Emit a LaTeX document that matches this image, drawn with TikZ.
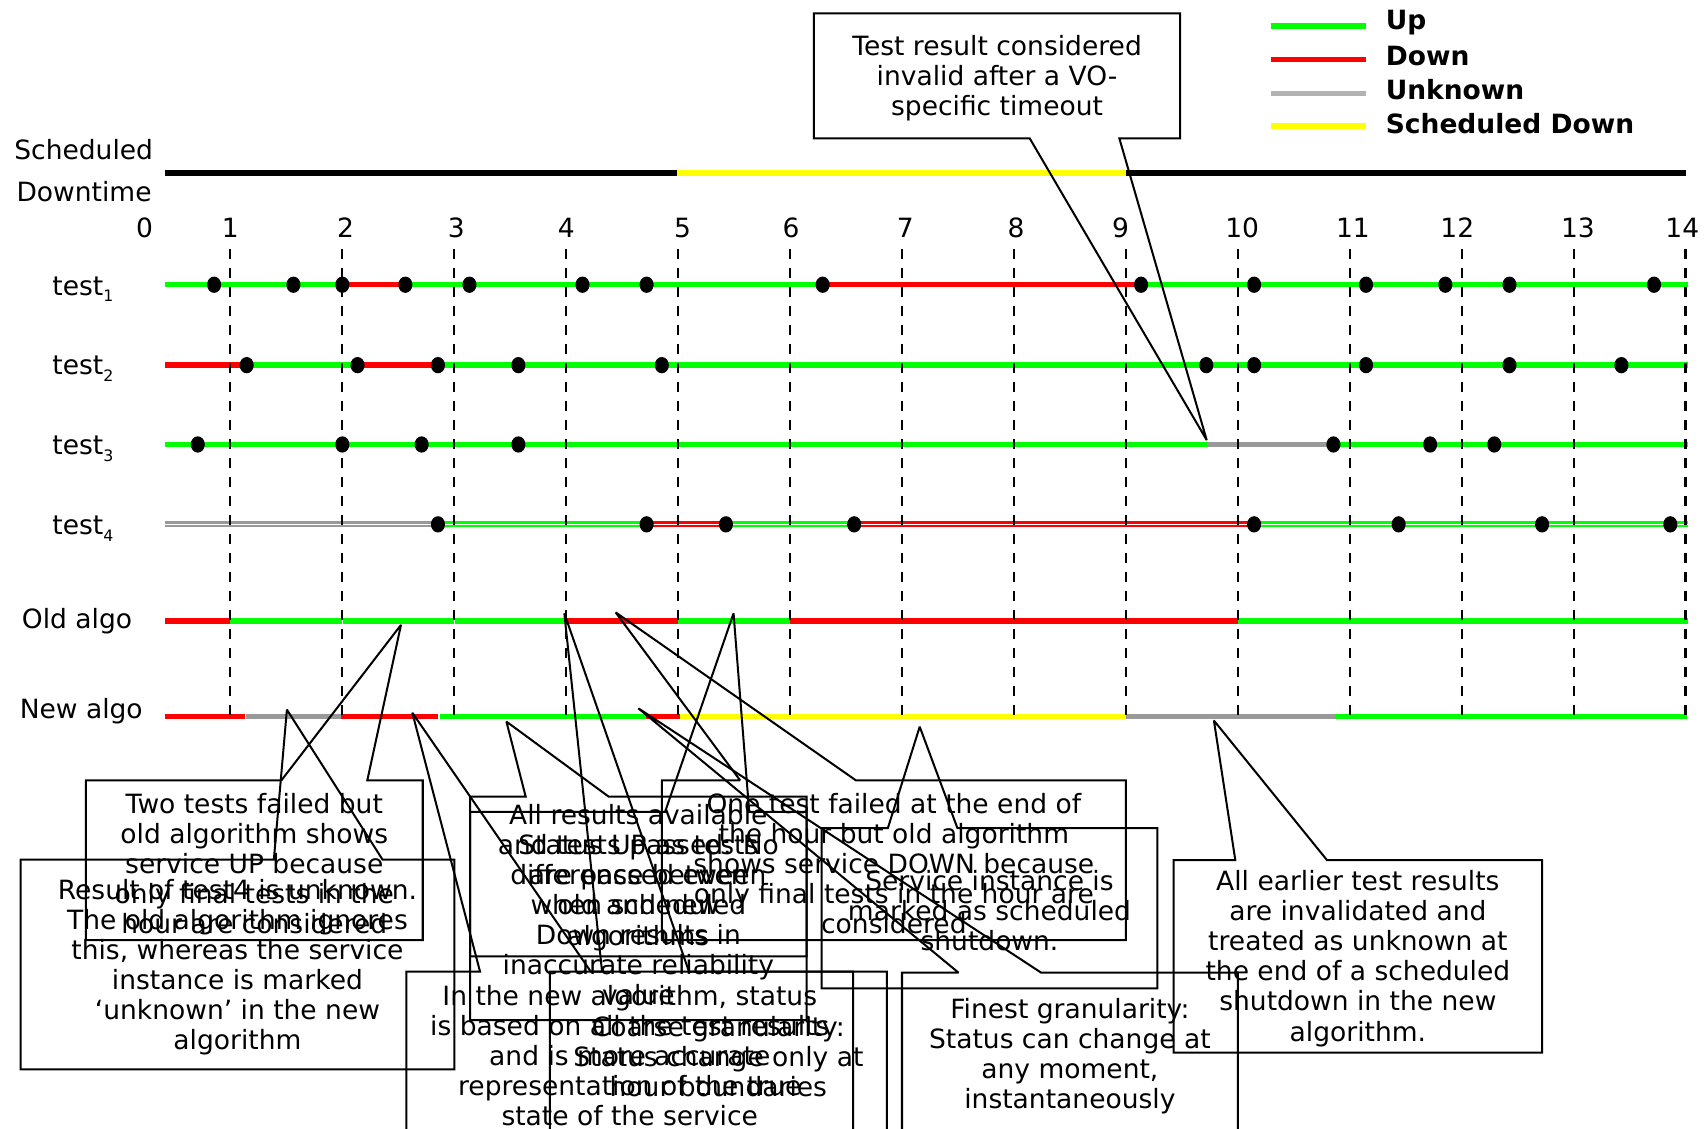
\documentclass[tikz,border=0pt]{standalone}
\usepackage{fontspec}
\setmainfont{DejaVu Sans}
\definecolor{cg}{RGB}{0,255,0}
\definecolor{cr}{RGB}{255,0,0}
\definecolor{cgr}{RGB}{153,153,153}
\definecolor{cgl}{RGB}{178,178,178}
\definecolor{cy}{RGB}{255,255,0}
\newcommand\rowseg[4]{\draw[line width=5pt, draw=#1] (#3,#2) -- (#4,#2);}
\newcommand\dblseg[4]{\draw[line width=2pt, draw=#1, double=white, double distance=1.4pt] (#3,#2) -- (#4,#2);}
\newcommand\calloutT[8]{\draw[co] (#1,#2) -- (#5,#2) -- (#7,#8) -- (#6,#2) -- (#3,#2) -- (#3,#4) -- (#1,#4) -- cycle;}
\newcommand\tsub[1]{\raisebox{-6pt}{\fontsize{14.5}{14.5}\selectfont #1}}
\begin{document}
\begin{tikzpicture}[x=1pt,y=-1pt,
  txt/.style={align=center, font=\fontsize{24.4}{27.7}\selectfont, inner sep=0pt},
  lbl/.style={font=\fontsize{24.4}{27.7}\selectfont, inner sep=0pt, anchor=base west},
  num/.style={font=\fontsize{24.4}{27.7}\selectfont, inner sep=0pt, anchor=base},
  leg/.style={font=\fontsize{24.4}{27.7}\selectfont\bfseries, inner sep=0pt, anchor=base west},
  co/.style={line width=1.85pt, line join=miter, miter limit=2},
  hourline/.style={line width=2pt, dash pattern=on 9pt off 8.5pt}]
\useasboundingbox (0,0) rectangle (1568,1038);
\clip (0,0) rectangle (1568,1038);

% legend
\draw[line width=5pt, cg] (1170,24) -- (1257,24);
\draw[line width=5pt, cr] (1170,55) -- (1257,55);
\draw[line width=5pt, cgl] (1170,86) -- (1257,86);
\draw[line width=5pt, cy] (1170,116) -- (1257,116);
\node[leg] (lup) at (1275,27) {Up};
\node[leg] (ldown) at (1275,60) {Down};
\node[leg] (lunk) at (1275,92) {Unknown};
\node[leg] (lsd) at (1275,123) {Scheduled Down};

% scheduled downtime
\node[lbl] (sch1) at (13,146.6) {Scheduled};
\node[lbl] (sch2) at (15,185) {Downtime};
\draw[line width=5.2pt, black] (152,159) -- (623,159);
\draw[line width=5.2pt, cy] (623,159) -- (1036,159);
\draw[line width=5.2pt, black] (1036,159) -- (1551.5,159);

% hour numbers
\foreach \n/\x in {0/133,1/212,2/318,3/420,4/521,5/628,6/728,7/833,8/935,9/1031,10/1143,11/1245,12/1341,13/1452,14/1548}
  \node[num] (h\n) at (\x,218.4) {\n};

% row labels
\node[lbl] (t1) at (48,271.5) {test\tsub{1}};
\node[lbl] (t2) at (48,345) {test\tsub{2}};
\node[lbl] (t3) at (48,418.5) {test\tsub{3}};
\node[lbl] (t4) at (48,492) {test\tsub{4}};
\node[lbl] (old) at (20,578) {Old algo};
\node[lbl] (new) at (18,661) {New algo};

% test1
\rowseg{cg}{262}{152}{315}\rowseg{cr}{262}{315}{373}\rowseg{cg}{262}{373}{757}
\rowseg{cr}{262}{757}{1050}\rowseg{cg}{262}{1050}{1553}
% test2
\rowseg{cr}{336}{152}{227}\rowseg{cg}{336}{227}{329}\rowseg{cr}{336}{329}{403}
\rowseg{cg}{336}{403}{1553}
% test3
\rowseg{cg}{409}{152}{1110.5}\rowseg{cgr}{409}{1110.5}{1227}\rowseg{cg}{409}{1227}{1553}
% test4
\dblseg{cgr}{482.5}{152}{403}\dblseg{cg}{482.5}{403}{595}\dblseg{cr}{482.5}{595}{668}
\dblseg{cg}{482.5}{668}{786}\dblseg{cr}{482.5}{786}{1154}\dblseg{cg}{482.5}{1154}{1553}
% old algo
\rowseg{cr}{571.5}{152}{212}\rowseg{cg}{571.5}{212}{314.5}\rowseg{cg}{571.5}{315.5}{417.5}
\rowseg{cg}{571.5}{418.5}{521}\rowseg{cr}{571.5}{521}{623.5}\rowseg{cg}{571.5}{623.5}{727}
\rowseg{cr}{571.5}{727}{1139}\rowseg{cg}{571.5}{1139}{1553}
% new algo
\rowseg{cr}{659.5}{152}{225.8}\rowseg{cgr}{659.5}{226.8}{314}\rowseg{cr}{659.5}{314}{403}
\rowseg{cg}{659.5}{405}{594.5}\rowseg{cr}{659.5}{594.5}{625.5}\rowseg{cy}{659.5}{625.5}{1036}
\rowseg{cgr}{659.5}{1036}{1228}\rowseg{cg}{659.5}{1228}{1552}

% hour lines
\foreach \x in {212,315,418,521,624,727,830,933,1036,1139,1242,1345,1448,1551}
  \draw[hourline] (\x,229) -- (\x,666);

% dots
\foreach \x in {197,270,315,373,432,536,595,757,1050,1154,1257,1330,1389,1522}
  \fill (\x,262) ellipse [x radius=6.5pt, y radius=7.5pt];
\foreach \x in {227,329,403,477,609,1110,1154,1257,1389,1492}
  \fill (\x,336) ellipse [x radius=6.5pt, y radius=7.5pt];
\foreach \x in {182,315,388,477,1227,1316,1375}
  \fill (\x,409) ellipse [x radius=6.5pt, y radius=7.5pt];
\foreach \x in {403,595,668,786,1154,1287,1419,1537}
  \fill (\x,482.5) ellipse [x radius=6.5pt, y radius=7.5pt];

% callout 1 (pointer on bottom edge)
\draw[co] (749,12.3) -- (1086,12.3) -- (1086,127.3) -- (1030,127.3) -- (1110.4,405) -- (947.5,127.3) -- (749,127.3) -- cycle;
\node[txt] (c1) at (917.5,72) {Test result considered\\invalid after a VO-\\specific timeout};

% callouts with pointer on top edge
\calloutT{79}{718}{389}{865}{259}{338}{369}{575}
\calloutT{19}{791}{418}{984}{252}{352}{264}{653}
\calloutT{432.5}{733}{742.3}{880}{483.7}{560}{466}{664}
\calloutT{432.5}{747}{742.3}{938.6}{612}{689.4}{675}{564.4}
\calloutT{609}{718}{1036}{865}{681}{787.5}{566.5}{563.5}
\calloutT{756}{762}{1065}{909.5}{817}{881}{846.3}{668.7}
\calloutT{374}{894}{785}{1046}{441.7}{543.6}{379.4}{655.8}
\calloutT{506}{894}{816}{1046}{554}{634}{519.3}{564.4}
\calloutT{830}{895}{1139}{1046}{882}{958}{587.4}{651.8}
\calloutT{1080}{791.4}{1419}{968.7}{1136.7}{1221}{1117}{663}

\node[txt] (c2) at (234,794.5) {Two tests failed but\\old algorithm shows\\service UP because\\only final tests in the\\hour are considered};
\node[txt] (c3) at (218.5,890) {Result of test4 is unknown.\\The old algorithm ignores\\this, whereas the service\\instance is marked\\‘unknown’ in the new\\algorithm};
\node[txt] (c4) at (587.4,807.5) {All results available\\and tests passed. No\\difference between\\old and new\\algorithms};
\node[txt] (c5) at (587.4,846.5) {Status UP as tests\\are passed even\\when scheduled\\Down results in\\inaccurate reliability\\value};
\node[txt] (c6) at (822.5,794.5) {One test failed at the end of\\the hour but old algorithm\\shows service DOWN because\\only final tests in the hour are\\considered};
\node[txt] (c7) at (910.5,838) {Service instance is\\marked as scheduled\\shutdown.};
\node[txt] (c8) at (579.5,971.5) {In the new algorithm, status\\is based on all the test results\\and is more accurate\\representation of the true\\state of the service};
\node[txt] (c9) at (661,972) {Coarse granularity:\\Status change only at\\hour boundaries};
\node[txt] (c10) at (984.5,972) {Finest granularity:\\Status can change at\\any moment,\\instantaneously};
\node[txt] (c11) at (1249.5,882) {All earlier test results\\are invalidated and\\treated as unknown at\\the end of a scheduled\\shutdown in the new\\algorithm.};
\end{tikzpicture}
\end{document}
